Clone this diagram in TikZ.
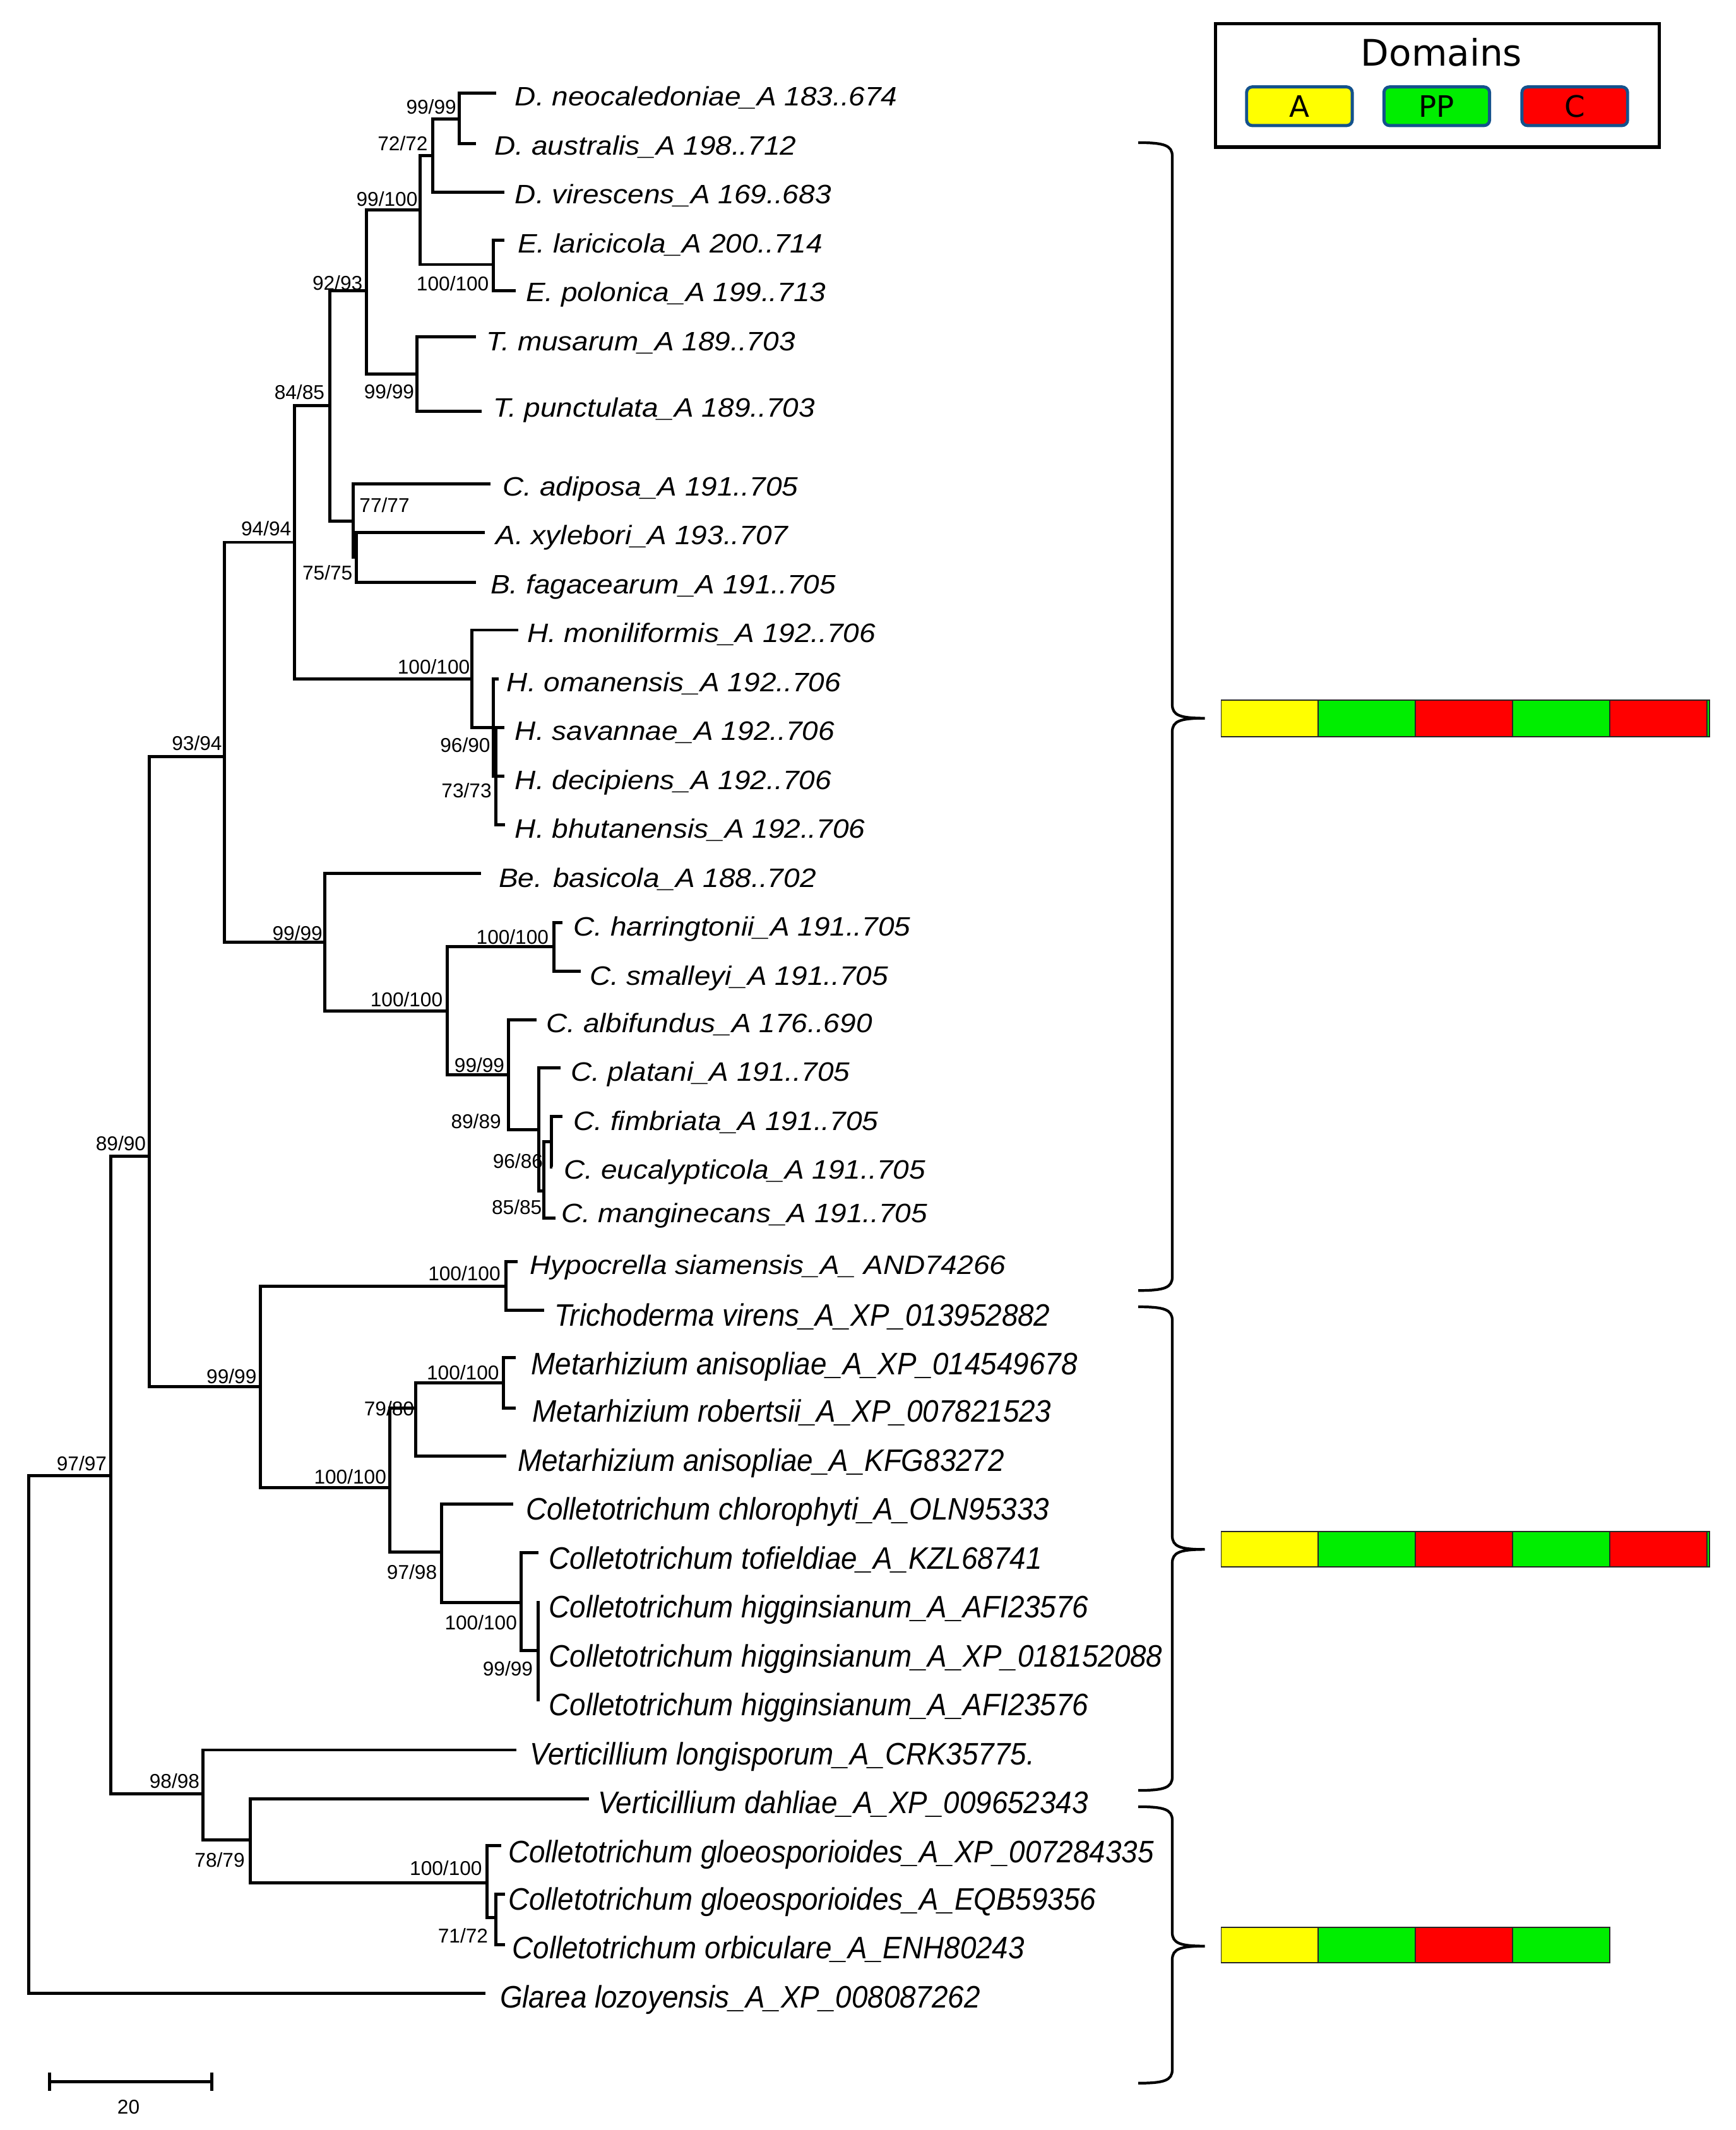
\documentclass[tikz,border=0pt]{standalone}
\usepackage{fontspec}
\setmainfont{Liberation Sans}
\newfontfamily\taxA[FakeStretch=1.09]{Liberation Sans}
\newfontfamily\taxB[FakeStretch=0.93]{Liberation Sans}
\newfontfamily\legfont{DejaVu Sans}

\definecolor{domYellow}{RGB}{255,255,0}
\definecolor{domGreen}{RGB}{0,238,0}
\definecolor{domRed}{RGB}{255,0,0}
\definecolor{legBlue}{RGB}{20,82,140}

% curly brace: top end, tip, bottom end
\newcommand{\domainbrace}[3]{%
  \draw[bracket] (838,#1) .. controls (857,#1) and (863,#1+2) .. (863,#1+10)
    -- (863,#2-10) .. controls (863,#2-2) and (869,#2) .. (887,#2)
    .. controls (869,#2) and (863,#2+2) .. (863,#2+10)
    -- (863,#3-10) .. controls (863,#3-2) and (857,#3) .. (838,#3);}

\begin{document}
\begin{tikzpicture}[x=0.02152cm, y=-0.02152cm, line width=1.4pt,
    taxa/.style={anchor=base west, inner sep=0pt, font=\fontsize{12}{14}\taxA\itshape},
    taxb/.style={anchor=base west, inner sep=0pt, font=\fontsize{14}{16}\taxB\itshape},
    boot/.style={anchor=base east, inner sep=0pt, font=\fontsize{9}{10}\selectfont},
    segment/.style={draw=black!85, line width=0.5pt},
    legkey/.style={draw=legBlue, line width=1.4pt, rounded corners=2.5pt,
      minimum width=47.6pt, minimum height=17.4pt, inner sep=0pt,
      font=\fontsize{13.3}{14}\legfont},
    bracket/.style={line width=1.2pt}]
    \useasboundingbox (0,0) rectangle (1278,1568);

    % internal nodes
    \coordinate (root)   at (21,1276.8);
    \coordinate (n9797)  at (81.7,1086.3);
    \coordinate (n8990)  at (110,851.2);
    \coordinate (n9898)  at (149.2,1320.5);
    \coordinate (n9394)  at (165,557);
    \coordinate (n9999b) at (191.7,1020.8);
    \coordinate (n9494)  at (216.6,399.2);
    \coordinate (n9999c) at (239.3,693.6);
    \coordinate (n8485)  at (242.7,298.4);
    \coordinate (n9293)  at (269.7,213.9);
    \coordinate (n7777)  at (260.2,383.5);
    \coordinate (n7575)  at (262.2,410.3);
    \coordinate (n99100) at (309.1,154.6);
    \coordinate (n7272)  at (318.7,114.6);
    \coordinate (n9999a) at (338.2,87.4);
    \coordinate (nE)     at (363.1,194.7);
    \coordinate (nT)     at (307,275.3);
    \coordinate (nH)     at (347.4,499.7);
    \coordinate (n9690)  at (363.1,535.5);
    \coordinate (n7373)  at (364.9,571.4);
    \coordinate (n100c)  at (329.1,744.1);
    \coordinate (n100d)  at (407.6,696.9);
    \coordinate (n9999d) at (374.4,791.4);
    \coordinate (n8989)  at (396.8,831.5);
    \coordinate (n8585)  at (400.4,876.7);
    \coordinate (n9686)  at (405.8,840.3);
    \coordinate (nHyp)   at (372.6,946.7);
    \coordinate (n100e)  at (287.1,1095.1);
    \coordinate (n7980)  at (306.2,1036.5);
    \coordinate (nMet)   at (370.5,1018.1);
    \coordinate (n9798)  at (324.9,1142.6);
    \coordinate (nTof)   at (383.8,1179.6);
    \coordinate (nHig)   at (396.3,1215.2);
    \coordinate (n7879)  at (184.1,1354.5);
    \coordinate (nGlo)   at (358.7,1386);
    \coordinate (n7172)  at (364.9,1411.4);

    % tips
    \coordinate (t1)  at (365.1,68.7);
    \coordinate (t2)  at (350.6,105.7);
    \coordinate (t3)  at (371.4,141.3);
    \coordinate (t4)  at (371.4,176.9);
    \coordinate (t5)  at (379.7,213.9);
    \coordinate (t6)  at (350.6,248);
    \coordinate (t7)  at (354.8,302.8);
    \coordinate (t8)  at (361,356.2);
    \coordinate (t9)  at (356.8,391.8);
    \coordinate (t10) at (350.6,428.8);
    \coordinate (t11) at (381.5,463.8);
    \coordinate (t12) at (367.3,499.7);
    \coordinate (t13) at (371.1,535.5);
    \coordinate (t14) at (371.1,571.4);
    \coordinate (t15) at (371.7,607.2);
    \coordinate (t16) at (354.2,643.1);
    \coordinate (t17) at (414.1,679);
    \coordinate (t18) at (427.5,714.8);
    \coordinate (t19) at (394.9,750.7);
    \coordinate (t20) at (412.6,785.9);
    \coordinate (t21) at (414.3,821.7);
    \coordinate (t22) at (406.8,858.9);
    \coordinate (t23) at (408.9,896.8);
    \coordinate (t24) at (380.9,928.9);
    \coordinate (t25) at (400.4,964.4);
    \coordinate (t26) at (379.7,999.4);
    \coordinate (t27) at (379.7,1036.5);
    \coordinate (t28) at (372.6,1072);
    \coordinate (t29) at (377.6,1107);
    \coordinate (t30) at (396.3,1143.1);
    \coordinate (t31) at (397.3,1179.6);
    \coordinate (t32) at (397.3,1215.2);
    \coordinate (t33) at (397.3,1251.3);
    \coordinate (t34) at (380.1,1288.2);
    \coordinate (t35) at (433.6,1324.1);
    \coordinate (t36) at (368.8,1358.5);
    \coordinate (t37) at (371.6,1394.4);
    \coordinate (t38) at (371.6,1431.4);
    \coordinate (t39) at (357.5,1467.3);

    % branches
    \foreach \p/\c in {root/n9797, root/t39, n9797/n8990, n9797/n9898,
        n8990/n9394, n8990/n9999b, n9394/n9494, n9394/n9999c,
        n9494/n8485, n9494/nH, n8485/n9293, n8485/n7777,
        n9293/n99100, n9293/nT, n99100/n7272, n99100/nE,
        n7272/n9999a, n7272/t3, n9999a/t1, n9999a/t2, nE/t4, nE/t5,
        nT/t6, nT/t7, n7777/t8, n7777/n7575, n7575/t9, n7575/t10,
        nH/t11, nH/n9690, n9690/t12, n9690/n7373,
        n7373/t13, n7373/t14, n7373/t15,
        n9999c/t16, n9999c/n100c, n100c/n100d, n100c/n9999d,
        n100d/t17, n100d/t18, n9999d/t19, n9999d/n8989,
        n8989/t20, n8989/n8585, n8585/n9686, n8585/t23,
        n9686/t21, n9686/t22,
        n9999b/nHyp, n9999b/n100e, nHyp/t24, nHyp/t25,
        n100e/n7980, n100e/n9798, n7980/nMet, n7980/t28,
        nMet/t26, nMet/t27, n9798/t29, n9798/nTof,
        nTof/t30, nTof/nHig, nHig/t31, nHig/t32, nHig/t33,
        n9898/t34, n9898/n7879, n7879/t35, n7879/nGlo,
        nGlo/t36, nGlo/n7172, n7172/t37, n7172/t38}
        \draw (\p) |- (\c);

    % taxa
    \node[taxa] (l1)  at (378,78)  {D. neocaledoniae\_A 183..674};
    \node[taxa] (l2)  at (363,114) {D. australis\_A 198..712};
    \node[taxa] (l3)  at (378,150) {D. virescens\_A 169..683};
    \node[taxa] (l4)  at (380,186) {E. laricicola\_A 200..714};
    \node[taxa] (l5)  at (386,222) {E. polonica\_A 199..713};
    \node[taxa] (l6)  at (357,258) {T. musarum\_A 189..703};
    \node[taxa] (l7)  at (362,307) {T. punctulata\_A 189..703};
    \node[taxa] (l8)  at (369,365) {C. adiposa\_A 191..705};
    \node[taxa] (l9)  at (364,401) {A. xylebori\_A 193..707};
    \node[taxa] (l10) at (360,437) {B. fagacearum\_A 191..705};
    \node[taxa] (l11) at (387,473) {H. moniliformis\_A 192..706};
    \node[taxa] (l12) at (372,509) {H. omanensis\_A 192..706};
    \node[taxa] (l13) at (378,545) {H. savannae\_A 192..706};
    \node[taxa] (l14) at (378,581) {H. decipiens\_A 192..706};
    \node[taxa] (l15) at (378,617) {H. bhutanensis\_A 192..706};
    \node[taxa] (l16) at (366,653) {Be. basicola\_A 188..702};
    \node[taxa] (l17) at (421,689) {C. harringtonii\_A 191..705};
    \node[taxa] (l18) at (433,725) {C. smalleyi\_A 191..705};
    \node[taxa] (l19) at (401,760) {C. albifundus\_A 176..690};
    \node[taxa] (l20) at (419,796) {C. platani\_A 191..705};
    \node[taxa] (l21) at (421,832) {C. fimbriata\_A 191..705};
    \node[taxa] (l22) at (414,868) {C. eucalypticola\_A 191..705};
    \node[taxa] (l23) at (412,900) {C. manginecans\_A 191..705};
    \node[taxa] (l24) at (389,938) {Hypocrella siamensis\_A\_ AND74266};
    \node[taxb] (l25) at (407,976)  {Trichoderma virens\_A\_XP\_013952882};
    \node[taxb] (l26) at (390,1012) {Metarhizium anisopliae\_A\_XP\_014549678};
    \node[taxb] (l27) at (391,1047) {Metarhizium robertsii\_A\_XP\_007821523};
    \node[taxb] (l28) at (380,1083) {Metarhizium anisopliae\_A\_KFG83272};
    \node[taxb] (l29) at (386,1119) {Colletotrichum chlorophyti\_A\_OLN95333};
    \node[taxb] (l30) at (403,1155) {Colletotrichum tofieldiae\_A\_KZL68741};
    \node[taxb] (l31) at (403,1191) {Colletotrichum higginsianum\_A\_AFI23576};
    \node[taxb] (l32) at (403,1227) {Colletotrichum higginsianum\_A\_XP\_018152088};
    \node[taxb] (l33) at (403,1263) {Colletotrichum higginsianum\_A\_AFI23576};
    \node[taxb] (l34) at (389,1299) {Verticillium longisporum\_A\_CRK35775.};
    \node[taxb] (l35) at (439,1335) {Verticillium dahliae\_A\_XP\_009652343};
    \node[taxb] (l36) at (373,1371) {Colletotrichum gloeosporioides\_A\_XP\_007284335};
    \node[taxb] (l37) at (373,1406) {Colletotrichum gloeosporioides\_A\_EQB59356};
    \node[taxb] (l38) at (376,1442) {Colletotrichum orbiculare\_A\_ENH80243};
    \node[taxb] (l39) at (367,1478) {Glarea lozoyensis\_A\_XP\_008087262};

    % bootstrap values
    \node[boot] (b9999a) at (337,84)      {99/99};
    \node[boot] (b7272)  at (316,111)     {72/72};
    \node[boot] (b99100) at (308.5,151.5) {99/100};
    \node[boot] (bE)     at (361,214)     {100/100};
    \node[boot] (b9293)  at (268,213.5)   {92/93};
    \node[boot] (bT)     at (306,293.5)   {99/99};
    \node[boot] (b8485)  at (240,294)     {84/85};
    \node[boot, anchor=base west] (b7777) at (263.5,377) {77/77};
    \node[boot] (b7575)  at (260.6,427)   {75/75};
    \node[boot] (b9494)  at (215.5,394.5) {94/94};
    \node[boot] (bH)     at (347,496)     {100/100};
    \node[boot] (b9690)  at (362,553.5)   {96/90};
    \node[boot] (b7373)  at (363,587)     {73/73};
    \node[boot] (b9394)  at (164.5,552.5) {93/94};
    \node[boot] (b9999c) at (238.5,692)   {99/99};
    \node[boot] (b100c)  at (327,741)     {100/100};
    \node[boot] (b100d)  at (405,695)     {100/100};
    \node[boot] (b9999d) at (372.5,789.5) {99/99};
    \node[boot] (b8989)  at (370,830.5)   {89/89};
    \node[boot] (b9686)  at (400.8,860)   {96/86};
    \node[boot] (b8585)  at (400,894)     {85/85};
    \node[boot] (b8990)  at (108.5,847)   {89/90};
    \node[boot] (bHyp)   at (369.5,942.5) {100/100};
    \node[boot] (b9999b) at (190,1018.5)  {99/99};
    \node[boot] (bMet)   at (368.5,1015.5) {100/100};
    \node[boot] (b7980)  at (306,1042)    {79/80};
    \node[boot] (b100e)  at (285.5,1092.5) {100/100};
    \node[boot] (b9798)  at (322.8,1162.5) {97/98};
    \node[boot] (bTof)   at (381.7,1199.5) {100/100};
    \node[boot] (bHig)   at (393.4,1233.5) {99/99};
    \node[boot] (b9797)  at (79.7,1082.5) {97/97};
    \node[boot] (b9898)  at (148,1316.5)  {98/98};
    \node[boot] (b7879)  at (181.3,1374.5) {78/79};
    \node[boot] (bGlo)   at (356,1380.5)  {100/100};
    \node[boot] (b7172)  at (360.4,1430)  {71/72};

    % scale bar
    \coordinate (sbL) at (36.6,1532.3);
    \coordinate (sbR) at (156,1532.3);
    \draw (sbL) -- (sbR);
    \draw (sbL) ++(0,-6.7) -- ++(0,13.4);
    \draw (sbR) ++(0,-6.7) -- ++(0,13.4);
    \node[font=\fontsize{9}{10}\selectfont] (sbText) at (94.6,1551) {20};

    % legend
    \draw[line width=1.5pt] (894.7,17.3) rectangle (1221.4,108.3);
    \node[anchor=base, inner sep=0pt, font=\fontsize{16.5}{18}\legfont] (legTitle) at (1061.2,48.6) {Domains};
    \node[legkey, fill=domYellow] (keyA)  at (956.6,78.2)  {A};
    \node[legkey, fill=domGreen]  (keyPP) at (1057.7,78.2) {PP};
    \node[legkey, fill=domRed]    (keyC)  at (1159.3,78.2) {C};

    % braces
    \domainbrace{105}{528.7}{950}
    \domainbrace{962}{1140.6}{1318}
    \domainbrace{1330}{1432.6}{1533.5}

    % domain bars
    \foreach \c [count=\i from 0] in {domYellow,domGreen,domRed,domGreen,domRed} {
        \draw[segment, fill=\c] (899+71.5*\i,515.5) rectangle ++(71.5,26.7);
        \draw[segment, fill=\c] (899+71.5*\i,1127.3) rectangle ++(71.5,26.1);
    }
    \draw[segment, fill=domGreen] (1256.5,515.5) rectangle (1258.5,542.2);
    \draw[segment, fill=domGreen] (1256.5,1127.3) rectangle (1258.5,1153.4);
    \foreach \c [count=\i from 0] in {domYellow,domGreen,domRed,domGreen}
        \draw[segment, fill=\c] (899+71.5*\i,1418.7) rectangle ++(71.5,26.2);
\end{tikzpicture}
\end{document}
